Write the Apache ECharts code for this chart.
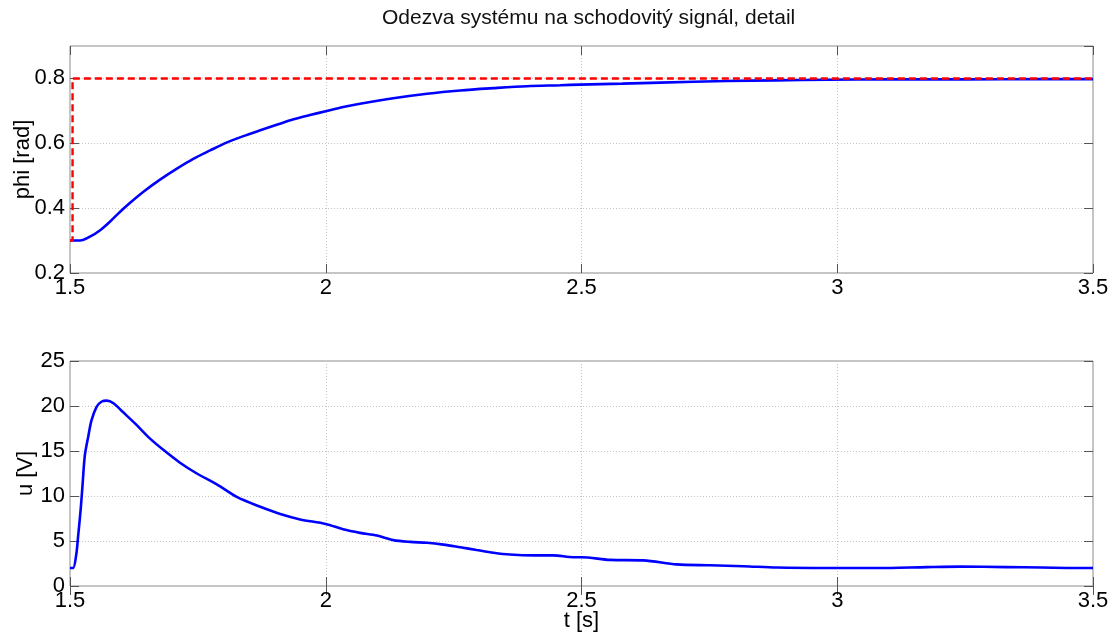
<!DOCTYPE html>
<html>
<head>
<meta charset="utf-8">
<script src="https://cdn.jsdelivr.net/npm/echarts@6/dist/echarts.min.js"></script>
<style>
  html, body { margin: 0; padding: 0; background: #fff; }
  #chart { width: 1111px; height: 635px; }
</style>
</head>
<body>
<div id="chart"></div>
<script>
// Step response of the system, detail view (t = 1.5 .. 3.5 s)
const titleText = 'Odezva systému na schodovitý signál, detail';
const xName = 't [s]';
const phiName = 'phi [rad]';
const uName = 'u [V]';

// Time ticks
const tMin = 1.5, tMax = 3.5, tStep = 0.5;

// Reference (step) for phi: [t, phi]
const phiRef = [
  [1.5, 0.30], [1.505, 0.30], [1.505, 0.80], [3.5, 0.80]
];

// Measured angle phi: [t, phi]
const phiMeas = [
  [1.500, 0.300], [1.520, 0.300], [1.539, 0.312], [1.559, 0.332], [1.578, 0.358],
  [1.598, 0.389], [1.617, 0.416], [1.643, 0.450], [1.676, 0.488], [1.709, 0.522],
  [1.741, 0.552], [1.774, 0.578], [1.806, 0.602], [1.839, 0.622], [1.872, 0.640],
  [1.904, 0.657], [1.937, 0.674], [1.969, 0.687], [2.000, 0.699], [2.034, 0.712],
  [2.067, 0.722], [2.132, 0.739], [2.198, 0.753], [2.263, 0.763], [2.328, 0.770],
  [2.393, 0.776], [2.458, 0.779], [2.497, 0.781], [2.580, 0.784], [2.654, 0.787],
  [2.784, 0.792], [2.880, 0.794], [2.980, 0.796], [3.100, 0.797], [3.250, 0.797],
  [3.400, 0.798], [3.500, 0.798]
];

// Control voltage u: [t, u]
const uMeas = [
  [1.500, 2.0], [1.506, 2.0], [1.512, 3.4], [1.516, 5.6], [1.521, 8.6],
  [1.525, 11.6], [1.529, 14.5], [1.536, 16.7], [1.542, 18.4], [1.552, 19.9],
  [1.562, 20.5], [1.572, 20.6], [1.585, 20.3], [1.604, 19.3], [1.630, 17.9],
  [1.656, 16.4], [1.683, 15.1], [1.715, 13.7], [1.748, 12.5], [1.787, 11.3],
  [1.826, 9.9], [1.872, 8.8], [1.911, 8.0], [1.950, 7.4], [2.000, 6.9],
  [2.034, 6.3], [2.067, 5.9], [2.100, 5.6], [2.132, 5.1], [2.165, 4.9],
  [2.198, 4.8], [2.230, 4.6], [2.263, 4.3], [2.295, 4.0], [2.328, 3.7],
  [2.360, 3.5], [2.406, 3.4], [2.445, 3.4], [2.484, 3.2], [2.500, 3.2],
  [2.556, 2.9], [2.621, 2.85], [2.686, 2.4], [2.751, 2.3], [2.817, 2.2],
  [2.882, 2.05], [2.980, 2.0], [3.080, 2.0], [3.175, 2.1], [3.240, 2.15],
  [3.330, 2.1], [3.400, 2.05], [3.470, 2.0], [3.500, 2.0]
];

const FONT = 'Liberation Sans, Arial, sans-serif';
const frameColor = '#8c8c8c';
const tickColor = '#555';
const gridStyle = { color: '#c4c4c4', width: 1, type: [1, 2] };

function mainX(gridIndex, withName) {
  return {
    type: 'value', gridIndex, min: tMin, max: tMax, interval: tStep,
    position: 'bottom',
    axisLine: { show: false },
    axisTick: { show: true, inside: true, length: 9, lineStyle: { color: tickColor } },
    axisLabel: { color: '#000', fontSize: 22, fontFamily: FONT, margin: 4 },
    splitLine: { show: true, lineStyle: gridStyle },
    name: withName ? xName : '', nameLocation: 'middle', nameGap: 24, nameMoveOverlap: false,
    nameTextStyle: { color: '#000', fontSize: 22, fontFamily: FONT }
  };
}
function mirrorX(gridIndex) {
  return {
    type: 'value', gridIndex, min: tMin, max: tMax, interval: tStep,
    position: 'top',
    axisLine: { show: false },
    axisTick: { show: true, inside: true, length: 9, lineStyle: { color: tickColor } },
    axisLabel: { show: false }, splitLine: { show: false }
  };
}
function mainY(gridIndex, min, max, step, name, gap) {
  return {
    type: 'value', gridIndex, min, max, interval: step,
    position: 'left',
    axisLine: { show: false },
    axisTick: { show: true, inside: true, length: 9, lineStyle: { color: tickColor } },
    axisLabel: { color: '#000', fontSize: 22, fontFamily: FONT, margin: 5, showMaxLabel: max % step === 0 },
    splitLine: { show: true, lineStyle: gridStyle },
    name, nameLocation: 'middle', nameRotate: 90, nameGap: gap, nameMoveOverlap: false,
    nameTextStyle: { color: '#000', fontSize: 22, fontFamily: FONT }
  };
}
function mirrorY(gridIndex, min, max, step) {
  return {
    type: 'value', gridIndex, min, max, interval: step,
    position: 'right',
    axisLine: { show: false },
    axisTick: { show: true, inside: true, length: 9, lineStyle: { color: tickColor } },
    axisLabel: { show: false }, splitLine: { show: false }
  };
}

const chart = echarts.init(document.getElementById('chart'), null, { renderer: 'canvas' });
chart.setOption({
  animation: false,
  backgroundColor: '#fff',
  title: {
    text: titleText, left: 377, top: 3,
    textStyle: { color: '#111', fontSize: 21, fontWeight: 'normal', fontFamily: FONT }
  },
  grid: [
    { left: 70, right: 18, top: 46, height: 227, outerBoundsMode: 'none', containLabel: false,
      show: true, borderColor: frameColor, borderWidth: 1, backgroundColor: 'transparent' },
    { left: 70, right: 18, top: 361, height: 225, outerBoundsMode: 'none', containLabel: false,
      show: true, borderColor: frameColor, borderWidth: 1, backgroundColor: 'transparent' }
  ],
  xAxis: [mainX(0, false), mainX(1, true), mirrorX(0), mirrorX(1)],
  yAxis: [
    mainY(0, 0.2, 0.9, 0.2, phiName, 36),
    mainY(1, 0, 25, 5, uName, 33),
    mirrorY(0, 0.2, 0.9, 0.2),
    mirrorY(1, 0, 25, 5)
  ],
  series: [
    {
      type: 'line', xAxisIndex: 0, yAxisIndex: 0, data: phiMeas, showSymbol: false,
      smooth: 0.3, lineStyle: { color: '#0000ff', width: 2.6 }, z: 3
    },
    {
      type: 'line', xAxisIndex: 0, yAxisIndex: 0, data: phiRef, showSymbol: false,
      lineStyle: { color: '#ff0000', width: 2.4, type: [7, 4] }, z: 4
    },
    {
      type: 'line', xAxisIndex: 1, yAxisIndex: 1, data: uMeas, showSymbol: false,
      smooth: 0.3, lineStyle: { color: '#0000ff', width: 2.6 }, z: 3
    }
  ]
});
</script>
</body>
</html>
